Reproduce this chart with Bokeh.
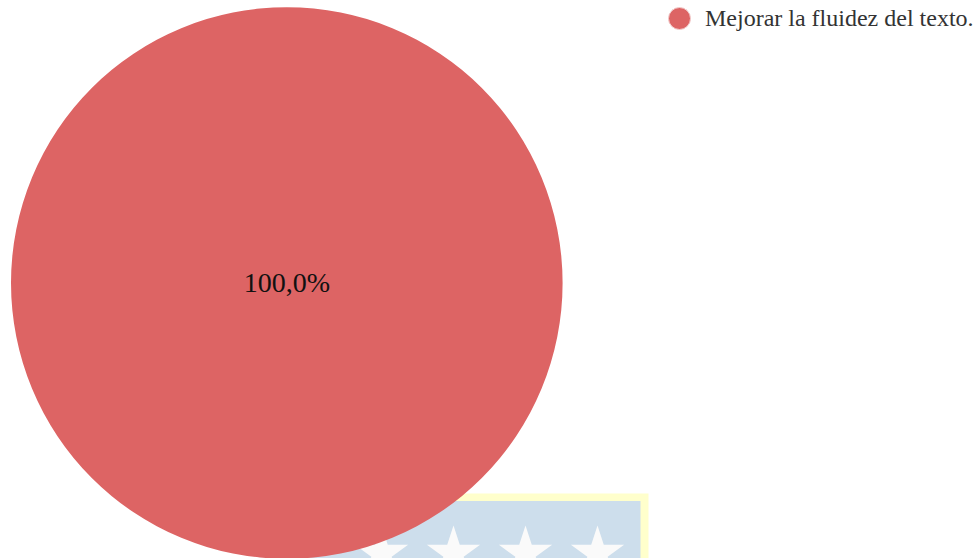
from math import pi
import numpy as np
from bokeh.plotting import figure
from bokeh.models import ColumnDataSource
from bokeh.core.properties import value
from bokeh.embed import file_html
from bokeh.resources import INLINE

categories = ["Mejorar la fluidez del texto."]
shares = [100.0]
labels = ["100,0%"]
colors = ["#DD6464"]

FONT = "Liberation Serif"
W, H = 980, 558
p = figure(width=W, height=H, output_backend="svg", toolbar_location=None,
           x_range=(0, W), y_range=(H, 0), min_border=0,
           outline_line_color=None, background_fill_color="white",
           border_fill_color="white")
p.axis.visible = False
p.grid.visible = False
p.styles = {"position": "absolute", "left": "0px", "top": "0px"}

# faded crest behind the pie
p.quad(left=[300], right=[648], top=[493], bottom=[570], fill_color="#FFFFCC", line_color=None)
p.quad(left=[300], right=[640], top=[500.5], bottom=[570], fill_color="#CDDEEC", line_color=None)
p.scatter(x=[381, 453, 525, 597], y=[553, 553, 553, 553], size=56, marker="star",
          fill_color="#FAFAFA", line_color=None)

# pie
cx, cy, r = 286.3, 282.5, 275.8
vals = np.array(shares)
ends = np.cumsum(vals) / vals.sum() * 2 * pi
starts = ends - vals / vals.sum() * 2 * pi
src = ColumnDataSource(dict(start=starts, end=ends, color=colors, cat=categories))
p.wedge(x=cx, y=cy, radius=r, start_angle="start", end_angle="end",
        fill_color="color", line_color=None, source=src)
p.text(x=[cx], y=[cy - 1], text=labels, text_font=value(FONT), text_font_size="28px",
       text_align="center", text_baseline="middle", text_color="#111111")

# legend
p.scatter(x=[679], y=[18], size=22, marker="circle", fill_color=colors, line_color="#F3CFCF", line_width=1)
p.text(x=[704.5], y=[17.5], text=categories, text_font=value(FONT), text_font_size="24px",
       text_align="left", text_baseline="middle", text_color="#333333")

open("out.html", "w").write(file_html(p, INLINE))
